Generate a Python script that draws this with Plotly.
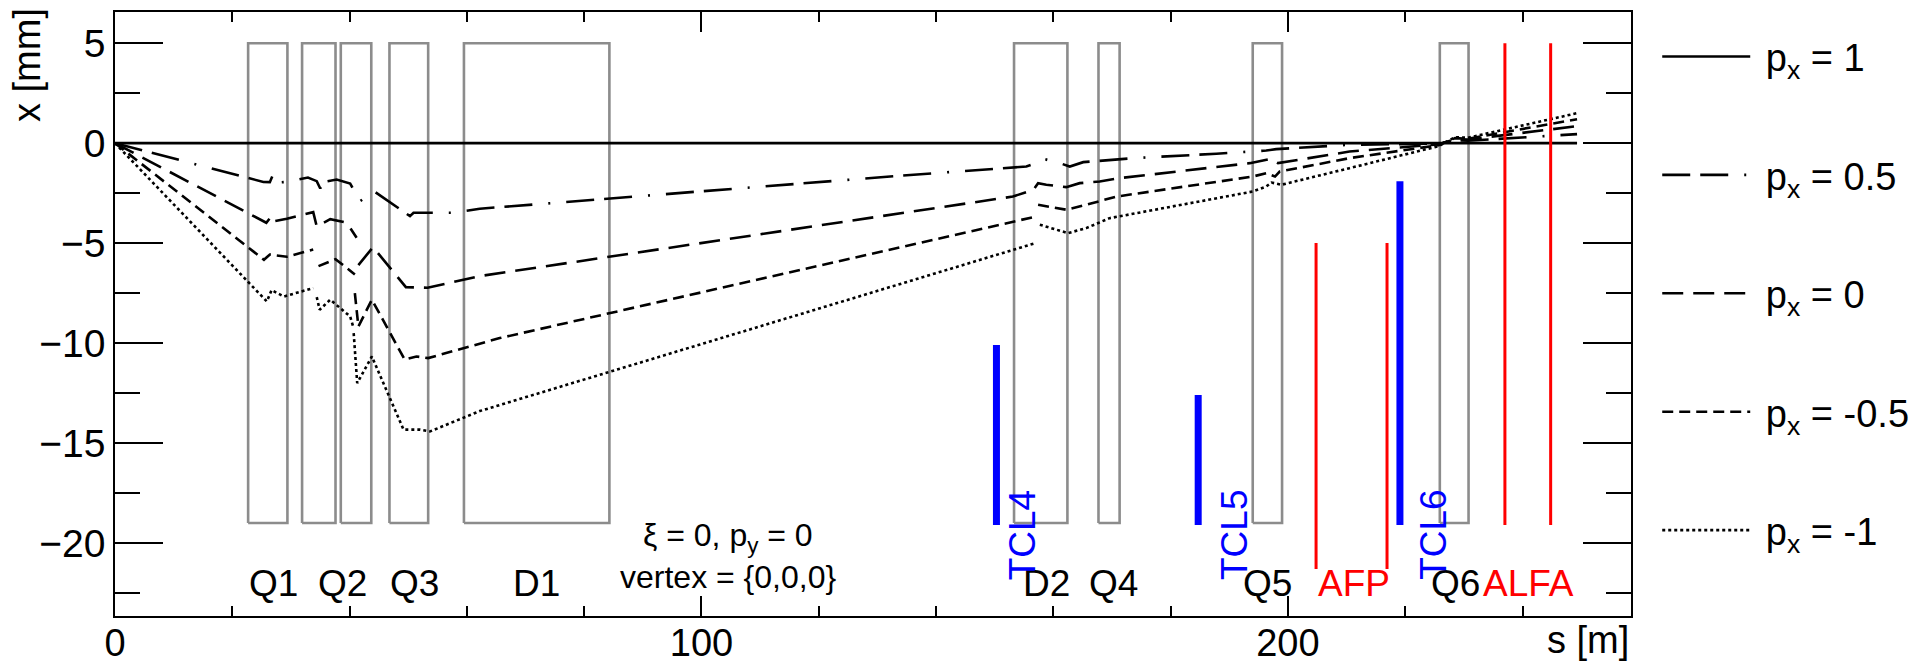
import plotly.graph_objects as go

FONT = "Liberation Sans, Arial, Helvetica, sans-serif"

# ---------------- data ----------------
# magnet apertures (gray boxes), s in m
magnet_names = ["Q1", "Q2a", "Q2b", "Q3", "D1", "D2", "Q4", "Q5", "Q6"]
magnet_start = [22.7, 31.9, 38.5, 46.8, 59.5, 153.3, 167.7, 194.0, 225.9]
magnet_end = [29.4, 37.6, 43.7, 53.4, 84.3, 162.4, 171.3, 199.0, 230.8]
magnet_low = -19.0
magnet_high = 5.0

# element labels along the bottom
label_text = ["Q1", "Q2", "Q3", "D1", "D2", "Q4", "Q5", "AFP", "Q6", "ALFA"]
label_s = [27.1, 38.8, 51.1, 71.9, 158.8, 170.3, 196.6, 211.3, 228.5, 241.1]
label_color = ["black", "black", "black", "black", "black", "black", "black", "red", "black", "red"]
label_x = -22.0

# TCL collimators
tcl_names = ["TCL4", "TCL5", "TCL6"]
tcl_s = [150.3, 184.7, 219.1]
tcl_top = [-10.1, -12.6, -1.9]
tcl_bottom = -19.1
tcl_label_s = [154.7, 190.8, 224.7]
tcl_label_x = -19.6

# forward detectors
afp_s = [204.8, 216.9]
afp_top, afp_bottom = -5.0, -21.3
alfa_s = [237.0, 244.8]
alfa_top, alfa_bottom = 5.0, -19.1

# trajectories x(s) [mm] for different p_x (None = gap)
px_values = ["1", "0.5", "0", "-0.5", "-1"]

s_px1 = [0, 249.3]
x_px1 = [0, 0]

s_px05 = [0, 25.3, 26.4, 26.9, 27.3, 29.3, 32.9, 34.4, 35.0, 35.5, 37.8, 40.1, 41.2, 41.8,
          42.9, 44.3, 50.3, 50.9, 57.7, 62.2, 133.8, 153.1, 155.4, 157.1, 158.5, 161.1,
          162.8, 165.1, 173.6, 187.8, 196.3, 198.0, 210.5, 225.7, 228.5, 230.7, 249.3]
x_px05 = [0, -1.94, -1.95, -1.6, -1.98, -1.94, -1.72, -1.9, -2.27, -1.94, -1.82, -2.02, -2.6,
          -2.9, -2.68, -2.43, -3.65, -3.48, -3.48, -3.28, -1.63, -1.25, -1.17, -1.0, -0.8,
          -1.0, -1.17, -0.95, -0.75, -0.53, -0.37, -0.3, -0.08, -0.02, 0.15, 0.12, 0.45]

s_px0 = [0, 25.8, 26.7, 27.2, 29.3, 33.8, 34.4, 36.7, 39.5, 41.2, None, 41.5, 44.0, 49.6,
         53.3, 62.2, 133.8, 153.1, 156.6, 157.4, 158.8, 161.1, 162.2, 164.5, 167.9, 171.3,
         193.5, 196.9, 198.3, 210.5, 225.7, 228.5, 230.7, 249.3]
x_px0 = [0, -3.98, -3.65, -3.9, -3.78, -3.45, -4.17, -3.8, -3.98, -4.73, None, -6.1, -5.2,
         -7.2, -7.23, -6.65, -3.5, -2.67, -2.33, -2.0, -2.08, -2.17, -2.2, -2.0, -1.92, -1.75,
         -1.0, -0.8, -1.0, -0.42, -0.06, 0.2, 0.18, 0.85]

s_pxm05 = [0, 25.4, 26.4, 29.3, 33.8, None, 34.7, 37.6, 40.9, None, 40.9, 41.5, 43.8, 49.4,
           51.4, 53.4, 65.6, 133.8, 156.6, None, 157.4, 162.2, 165.6, 170.8, 194.0, 196.3,
           197.8, 198.6, 210.5, 225.7, 228.5, 230.7, 249.3]
x_pxm05 = [0, -5.83, -5.57, -5.68, -5.32, None, -6.15, -5.8, -6.57, None, -7.5, -9.17, -7.83,
           -10.83, -10.67, -10.75, -9.75, -5.2, -3.7, None, -3.08, -3.33, -3.08, -2.67, -1.67,
           -1.5, -1.67, -1.42, -0.75, -0.1, 0.25, 0.22, 1.2]

s_pxm1 = [0, 25.9, 26.7, 28.8, 33.8, None, 34.4, 34.9, 36.7, 40.1, 40.6, None, 40.7, 41.3,
          43.8, 49.2, 52.0, 53.7, 62.2, 133.8, 156.6, None, 157.7, 162.5, 165.6, 169.6, 194.0,
          196.3, 197.2, 198.9, 210.5, 225.7, 228.5, 230.7, 249.3]
x_pxm1 = [0, -7.92, -7.35, -7.67, -7.25, None, -7.7, -8.33, -7.83, -8.67, -9.17, None, -9.5,
          -12.0, -10.67, -14.33, -14.33, -14.42, -13.4, -7.08, -5.03, None, -4.08, -4.5, -4.25,
          -3.75, -2.42, -2.17, -1.97, -2.08, -1.25, -0.15, 0.3, 0.27, 1.5]

curves_s = [s_px1, s_px05, s_px0, s_pxm05, s_pxm1]
curves_x = [x_px1, x_px05, x_px0, x_pxm05, x_pxm1]
dashes = ["solid", "28px,10px,28px,16px,2px,16px", "21px,10px", "11px,6px", "3px,3px"]

x_range = [0, 258.5]
y_range = [-23.65, 6.56]

# ---------------- figure ----------------
fig = go.Figure()

# magnet boxes
bx, by = [], []
for a, b in zip(magnet_start, magnet_end):
    bx += [a, b, b, a, a, None]
    by += [magnet_low, magnet_low, magnet_high, magnet_high, magnet_low, None]
fig.add_trace(go.Scatter(x=bx, y=by, mode="lines", line=dict(color="rgb(140,140,140)", width=2.6),
                         showlegend=False, hoverinfo="skip"))

# TCL bars
tx, ty = [], []
for s, top in zip(tcl_s, tcl_top):
    tx += [s, s, None]
    ty += [tcl_bottom, top, None]
fig.add_trace(go.Scatter(x=tx, y=ty, mode="lines", line=dict(color="#0000ff", width=7),
                         showlegend=False, hoverinfo="skip"))

# trajectories
for i, (s, x) in enumerate(zip(curves_s, curves_x)):
    name = "\u00a0p<sub>x</sub> = " + px_values[i]
    fig.add_trace(go.Scatter(x=s, y=x, mode="lines", name=name, legendgroup=f"g{i}",
                             line=dict(color="black", width=2.6, dash=dashes[i]),
                             connectgaps=False))

# detectors (red)
rx, ry = [], []
for s in afp_s:
    rx += [s, s, None]
    ry += [afp_bottom, afp_top, None]
for s in alfa_s:
    rx += [s, s, None]
    ry += [alfa_bottom, alfa_top, None]
fig.add_trace(go.Scatter(x=rx, y=ry, mode="lines", line=dict(color="#ff0000", width=3),
                         showlegend=False, hoverinfo="skip"))

# invisible trace on the mirrored (top/right) tick axes
fig.add_trace(go.Scatter(x=x_range, y=y_range, xaxis="x2", yaxis="y2", mode="lines",
                         opacity=0, showlegend=False, hoverinfo="skip"))

annotations = []
for t, s, c in zip(label_text, label_s, label_color):
    annotations.append(dict(x=s, y=label_x, xref="x", yref="y", text=t, showarrow=False,
                            xanchor="center", yanchor="middle",
                            font=dict(family=FONT, size=37, color=c)))
for t, s in zip(tcl_names, tcl_label_s):
    annotations.append(dict(x=s, y=tcl_label_x, xref="x", yref="y", text=t, showarrow=False,
                            textangle=-90, xanchor="center", yanchor="middle",
                            font=dict(family=FONT, size=37, color="#0000ff")))
annotations.append(dict(x=104.5, y=-19.7, xref="x", yref="y", text="ξ = 0, p<sub>y</sub> = 0",
                        showarrow=False, xanchor="center", yanchor="middle",
                        font=dict(family=FONT, size=32, color="black")))
annotations.append(dict(x=104.5, y=-21.7, xref="x", yref="y", text="vertex = {0,0,0}",
                        showarrow=False, xanchor="center", yanchor="middle",
                        font=dict(family=FONT, size=32, color="black")))
# axis titles (ROOT style, aligned at axis end)
annotations.append(dict(x=1.0, y=0, xref="paper", yref="paper", text="s [m]", showarrow=False,
                        xanchor="right", yanchor="middle", yshift=-24,
                        font=dict(family=FONT, size=38, color="black")))
annotations.append(dict(x=0, y=1.0, xref="paper", yref="paper", text="x [mm]", showarrow=False,
                        textangle=-90, xanchor="center", yanchor="top", xshift=-88, yshift=6,
                        font=dict(family=FONT, size=38, color="black")))

fig.update_layout(
    width=1919, height=670,
    margin=dict(l=115, r=288, t=12, b=54, autoexpand=False),
    plot_bgcolor="white", paper_bgcolor="white",
    font=dict(family=FONT, size=36, color="black"),
    annotations=annotations,
    showlegend=True,
    legend=dict(x=1.0173, y=0.978, xanchor="left", yanchor="top", traceorder="grouped",
                tracegroupgap=66, itemwidth=88, bgcolor="rgba(0,0,0,0)",
                font=dict(family=FONT, size=38, color="black")),
)
tickstyle = dict(ticks="inside", tickcolor="black", tickwidth=1.5)
fig.update_layout(
    xaxis=dict(range=x_range, tick0=0, dtick=100, ticklen=20, showgrid=False, zeroline=False,
               showline=True, linecolor="black", linewidth=1.5, mirror=True,
               ticklabelstandoff=-7, automargin=False,
               tickfont=dict(family=FONT, size=38, color="black"),
               minor=dict(ticks="inside", dtick=20, ticklen=10, tickwidth=1.5, tickcolor="black"),
               **tickstyle),
    yaxis=dict(range=y_range, tick0=0, dtick=5, ticklen=48, showgrid=False, zeroline=False,
               showline=True, linecolor="black", linewidth=1.5, mirror=True, automargin=False,
               tickfont=dict(family=FONT, size=39, color="black"),
               minor=dict(ticks="inside", dtick=2.5, ticklen=25, tickwidth=1.5, tickcolor="black"),
               **tickstyle),
    xaxis2=dict(range=x_range, overlaying="x", side="top", anchor="y", matches="x",
                tick0=0, dtick=100, ticklen=20, showticklabels=False, showgrid=False,
                zeroline=False, showline=False, automargin=False,
                minor=dict(ticks="inside", dtick=20, ticklen=10, tickwidth=1.5, tickcolor="black"),
                **tickstyle),
    yaxis2=dict(range=y_range, overlaying="y", side="right", anchor="x", matches="y",
                tick0=0, dtick=5, ticklen=48, showticklabels=False, showgrid=False,
                zeroline=False, showline=False, automargin=False,
                minor=dict(ticks="inside", dtick=2.5, ticklen=25, tickwidth=1.5, tickcolor="black"),
                **tickstyle),
)

fig.write_html("out.html")
